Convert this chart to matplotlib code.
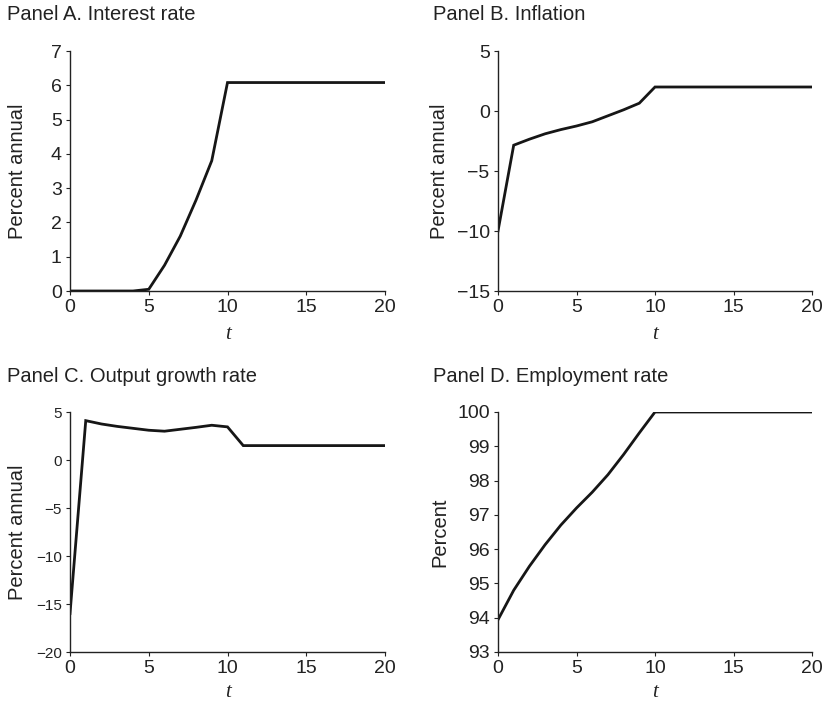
import matplotlib
matplotlib.use('Agg')
import matplotlib.pyplot as plt

plt.rcParams['font.family'] = ['Liberation Sans', 'DejaVu Sans']

t = list(range(21))

interest = [0, 0, 0, 0, 0, 0.05, 0.75, 1.6, 2.65, 3.8, 6.08] + [6.08] * 10
inflation = [-10, -2.85, -2.35, -1.9, -1.55, -1.25, -0.9, -0.4, 0.1, 0.65, 2.0] + [2.0] * 10
output = [-16, 4.1, 3.75, 3.5, 3.3, 3.1, 3.0, 3.2, 3.4, 3.62, 3.45, 1.5] + [1.5] * 9
employment = [93.94, 94.8, 95.5, 96.13, 96.7, 97.2, 97.66, 98.17, 98.76, 99.39, 100.0] + [100.0] * 10

titles = ['Panel A. Interest rate', 'Panel B. Inflation',
          'Panel C. Output growth rate', 'Panel D. Employment rate']
ylabels = ['Percent annual', 'Percent annual', 'Percent annual', 'Percent']
series = [interest, inflation, output, employment]
ylims = [(0, 7), (-15, 5), (-20, 5), (93, 100)]
yticks = [range(0, 8), range(-15, 6, 5), range(-20, 6, 5), range(93, 101)]

fig = plt.figure(figsize=(8.24, 7.07), dpi=100)
W, H = 824, 707
# axes boxes in pixels: left, top, right, bottom
boxes = [(70, 51, 385, 291), (498, 51, 812, 291),
         (70, 412, 385, 652), (498, 412, 812, 652)]
title_pos = [(7, 14), (433, 14), (7, 376), (433, 376)]
ylab_x = [-0.137, -0.156, -0.137, -0.156]
xlab_y = [-0.14, -0.14, -0.128, -0.128]
ytick_size = [14, 14, 11, 14]

for i in range(4):
    l, tp, r, b = boxes[i]
    ax = fig.add_axes([l / W, 1 - b / H, (r - l) / W, (b - tp) / H])
    ax.plot(t, series[i], color='#161616', lw=2.0, solid_joinstyle='miter')
    ax.set_xlim(0, 20)
    ax.set_ylim(*ylims[i])
    ax.set_xticks([0, 5, 10, 15, 20])
    ax.set_yticks(list(yticks[i]))
    ax.set_yticklabels([str(v).replace('-', '\u2212') for v in yticks[i]])
    for s in ['top', 'right']:
        ax.spines[s].set_visible(False)
    for s in ['left', 'bottom']:
        ax.spines[s].set_linewidth(1.0)
        ax.spines[s].set_color('#222222')
    ax.tick_params(axis='x', labelsize=14, length=3, width=0.8, pad=3, colors='#222222')
    ax.tick_params(axis='y', labelsize=ytick_size[i], length=3, width=0.8, pad=3, colors='#222222')
    ax.set_ylabel(ylabels[i], fontsize=14.5, color='#222222')
    ax.yaxis.set_label_coords(ylab_x[i], 0.5)
    ax.set_xlabel('t', fontsize=15, family='Liberation Serif', style='italic', color='#222222')
    ax.xaxis.set_label_coords(0.5, xlab_y[i])
    fig.text(title_pos[i][0] / W, 1 - title_pos[i][1] / H, titles[i],
             fontsize=14.5, va='center', ha='left', color='#222222')

fig.savefig('out.png', dpi=100)
